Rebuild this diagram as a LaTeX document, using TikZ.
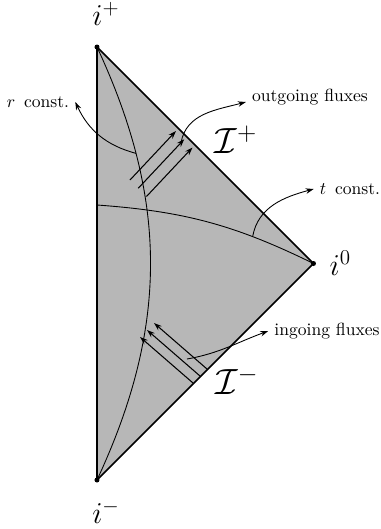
\documentclass[tikz,border=0pt]{standalone}
\usepackage{tikz}
\usetikzlibrary{arrows.meta,positioning,calc}
\definecolor{Gris}{HTML}{B7B7B7}

\begin{document}
\begin{tikzpicture}[node distance=3mm and 2mm,
        borde/.style={line width=0.9pt,line join=round},
        curva/.style={line width=0.5pt},
        flujo/.style={-{Stealth[length=1.6mm,width=1.1mm]},line width=0.6pt},
        flecha/.style={-{Stealth[length=1.6mm,width=1.1mm]},line width=0.5pt},
        etiqueta/.style={font=\normalsize}]
        \useasboundingbox (0,0) rectangle (7.62,10.58);
        \coordinate (ip) at (1.94,9.64);
        \coordinate (io) at (6.27,5.31);
        \coordinate (im) at (1.94,0.98);
        \coordinate (tl) at (1.94,6.48);
        \fill[Gris] (ip) -- (io) -- (im) -- cycle;
        \draw[curva] (ip) to[bend left=25] coordinate[pos=0.24] (rc) (im);
        \draw[curva] (tl) to[bend left=11] coordinate[pos=0.72] (tc) (io);
        \draw[borde] (ip) -- (io) -- (im) -- cycle;
        \foreach \p in {ip,io,im} \fill (\p) circle (0.05);
        \foreach \k in {0,1,2}
          \draw[flujo] ($(2.60,6.98)+(0.165*\k,-0.165*\k)$) -- ++(0.92,0.98) coordinate[pos=0.93] (os\k);
        \foreach \k in {0,1,2}
          \draw[flujo] ($(3.86,2.92)+(0.14*\k,0.14*\k)$) -- ++(-1.06,0.92);
        \coordinate (ic) at (3.74,3.40);
        \node[above=3mm of ip,xshift=1.8mm,font=\LARGE] (lip) {$i^+$};
        \node[below=2.8mm of im,xshift=1.8mm,font=\LARGE] (lim) {$i^-$};
        \node[right=2mm of io,font=\LARGE] (lio) {$i^0$};
        \node[font=\huge] (sp) at (4.72,7.78) {$\mathcal{I}^+$};
        \node[font=\huge] (sm) at (4.74,2.96) {$\mathcal{I}^-$};
        \node[etiqueta] (rlab) at (0.76,8.54) {$r$\enspace const.};
        \node[etiqueta] (tlab) at (7.00,6.80) {$t$\enspace const.};
        \node[etiqueta] (olab) at (6.20,8.64) {outgoing fluxes};
        \node[etiqueta] (ilab) at (6.54,3.96) {ingoing fluxes};
        \draw[flecha] (rc) to[out=165,in=-65] (rlab.east);
        \draw[flecha] (tc) to[out=80,in=195] (tlab.west);
        \draw[flecha] (os1) to[out=80,in=195] ([yshift=-1mm]olab.west);
        \draw[flecha] (ic) to[out=10,in=200] (ilab.west);
      \end{tikzpicture}
\end{document}
